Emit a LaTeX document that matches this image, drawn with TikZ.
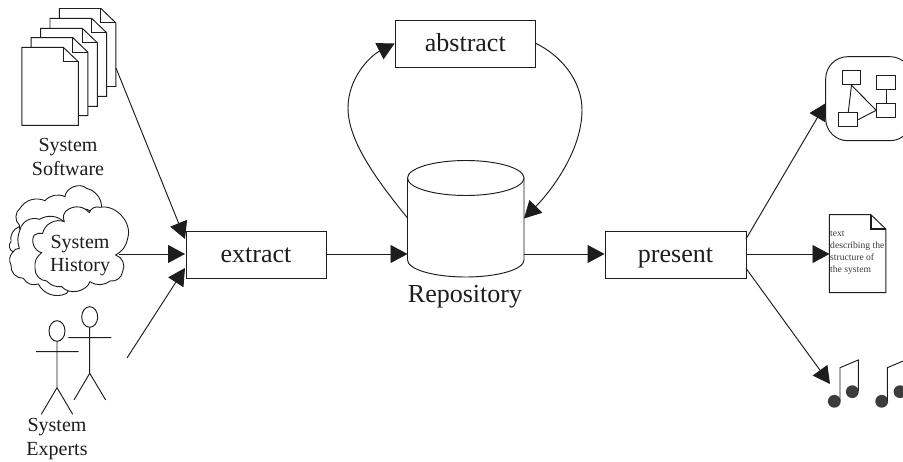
\documentclass[tikz,border=0pt]{standalone}
\usepackage{fontspec}
\setmainfont{Liberation Serif}
\usetikzlibrary{arrows.meta}
\definecolor{ink}{HTML}{1E1C1C}
\definecolor{noteink}{HTML}{3C3C3C}
\tikzset{
  ln/.style={line width=0.95pt,draw=ink},
  conn/.style={ln,-{Triangle[length=17pt,width=18pt,fill=ink]}},
  procbox/.style={rectangle,ln,fill=white,inner sep=0pt,text height=17pt,text depth=1pt,font=\fontsize{26}{28}\selectfont,text=ink},
  lab/.style={align=center,inner sep=0pt,font=\fontsize{20}{24}\selectfont,text=ink},
  page/.style={ln,fill=white,line join=miter},
  cloudline/.style={line width=0.9pt,draw=ink,fill=white},
  tiny/.style={ln,fill=white,rectangle,minimum width=18.7pt,minimum height=14pt,inner sep=0pt},
  notehead/.style={circle,fill=noteink,minimum size=12.8pt,inner sep=0pt},
}
\newcommand{\docpage}[3]{%
  \begin{scope}[shift={(#1,#2)}]
    \draw[page] (0,0) -- (41.6,0) -- (56.6,14.4) -- (56.6,78) -- (0,78) -- cycle;
    \draw[ln,line width=#3] (41.6,0) -- (41.6,14.4) -- (56.6,14.4);
  \end{scope}}
\begin{document}
\begin{tikzpicture}[x=1pt,y=-1pt]
\clip (0,0) rectangle (903,462);
\fill[white] (0,0) rectangle (903,462);
% document stack
\docpage{59.3}{8.5}{0.95pt}
\docpage{50}{18.3}{1.4pt}
\docpage{40.7}{28.3}{1.4pt}
\docpage{31.2}{37.7}{0.95pt}
\docpage{21.8}{47.4}{1.4pt}
\coordinate (docs) at (116,68);
\node[lab] (sw) at (68,157) {System\\[-0.5pt]Software};
% clouds
\begin{scope}[shift={(0,180)},x=0.3333pt,y=-0.3333pt]
  \path[cloudline] (58,135) to[bend left=50] (60,85) to[bend left=40] (135,62) to[bend left=35] (195,50)
    to[bend left=65] (260,25) to[bend left=35] (305,80) to (320,150) to (300,250) to (150,250) to (58,200) -- cycle;
  \path[cloudline] (70,205) to (38,215) to[bend left=55] (33,185) to[bend left=40] (58,140) -- cycle;
  \path[cloudline] (60,150) to[bend left=50] (118,118) to[bend left=35] (192,125) to[bend left=55] (275,95)
    to (290,200) to (200,340) to[bend left=45] (115,312) to[bend left=40] (70,295) to[bend left=50] (33,255)
    to[bend left=35] (38,217) to[bend left=30] (58,205) to[bend left=20] (60,150) -- cycle;
  \path[cloudline] (128,160) to[bend left=50] (193,125) to[bend left=45] (205,88) to[bend left=40] (268,98)
    to[bend left=45] (300,82) to[bend left=60] (383,175) to[bend left=25] (347,225) to[bend left=50] (368,275)
    to[bend left=45] (330,303) to[bend left=35] (270,305) to[bend left=60] (185,320) to[bend left=25] (140,303)
    to[bend left=45] (105,265) to[bend left=30] (125,218) to[bend left=55] (103,165) to[bend left=20] (128,160) -- cycle;
\end{scope}
\node[lab] (hist) at (80,255.5) {System\\[-0.5pt]History};
\coordinate (cloudout) at (119,254);
% people
\draw[ln] (57,331) ellipse [x radius=8,y radius=10.3];
\draw[ln] (36,351.7) -- (78.7,351.7) (57,341.3) -- (57,387.7) (41.3,414.3) -- (57,387.7) -- (72.7,414.3);
\draw[ln] (89.7,317) ellipse [x radius=8,y radius=10.3];
\draw[ln] (68.3,337.7) -- (111.3,337.7) (89.7,327.3) -- (89.7,373.3) (74,400) -- (89.7,373.3) -- (105.7,400);
\coordinate (people) at (127,358);
\node[lab] (exp) at (57,439) {System\\[-0.5pt]Experts};
% process boxes
\node[procbox,minimum width=140pt,minimum height=47pt] (extract) at (256,254.5) {extract};
\node[procbox,minimum width=141pt,minimum height=47pt] (present) at (675.5,254.5) {present};
\node[procbox,minimum width=140.5pt,minimum height=47pt] (abstract) at (465.3,43.5) {abstract};
% repository
\draw[ln,fill=white] (407.5,178) -- (407.5,260) arc[start angle=180,end angle=0,x radius=58.25,y radius=17] -- (524,178);
\draw[ln,fill=white] (465.75,178) ellipse [x radius=58.25,y radius=17.5];
\coordinate (repoW) at (407.5,254);
\coordinate (repoE) at (524,254);
\coordinate (repoA) at (407.5,218);
\coordinate (repoB) at (524,218.5);
\node[inner sep=0pt,font=\fontsize{26}{28}\selectfont,text=ink] (repolab) at (465,297) {Repository};
% connectors left
\draw[conn] (docs) -- (185,239);
\draw[conn] (cloudout) -- (185,254);
\draw[conn] (people) -- (185,268);
\draw[conn] (extract.east |- repoW) -- (repoW);
\draw[conn] (repoE) -- (present.west |- repoE);
\draw[conn] (repoA) .. controls (375,178) and (348,140) .. (348,108) .. controls (348,78) and (370,56) .. (abstract.west);
\draw[conn] (abstract.east) .. controls (560,55) and (582,80) .. (582,110) .. controls (582,150) and (552,190) .. (repoB);
% diagram icon
\draw[ln,rounded corners=22pt,fill=white] (825.7,56.7) rectangle (912,140.7);
\node[tiny] (t1) at (851.5,77.7) {};
\node[tiny] (t2) at (886,82.5) {};
\node[tiny] (t3) at (886,110.3) {};
\node[tiny] (t4) at (848.3,119.7) {};
\draw[ln] (t1.south) -- (t4.north);
\draw[ln] (t1.south) -- (t3.west);
\draw[ln] (t4.east) -- (t3.west);
\draw[ln] (t2.south) -- (t3.north);
% text page
\docpage{829.3}{214.7}{1.4pt}
\node[anchor=north west,inner sep=0pt,align=left,text=noteink,font=\fontsize{9.6}{12}\selectfont] (txt) at (830,230.5) {text\\describing the\\structure of\\the system};
\coordinate (txtW) at (829.5,254);
% music
\node[notehead] (n1) at (834.3,401.3) {};
\node[notehead] (n2) at (852.3,391.7) {};
\node[notehead] (n3) at (881.7,401.3) {};
\node[notehead] (n4) at (900,391.7) {};
\draw[ln] (840,401) -- (840,367.7) -- (858.3,360) -- (858.3,391);
\draw[ln] (887.3,401) -- (887.3,367.7) -- (905.6,360);
\coordinate (musicin) at (830,384);
% connectors right
\coordinate (presentNE) at (746,239);
\coordinate (presentSE) at (746,268.3);
\coordinate (iconin) at (826,103);
\draw[conn] (presentNE) -- (iconin);
\draw[conn] (present.east |- repoE) -- (txtW);
\draw[conn] (presentSE) -- (musicin);
\end{tikzpicture}
\end{document}
